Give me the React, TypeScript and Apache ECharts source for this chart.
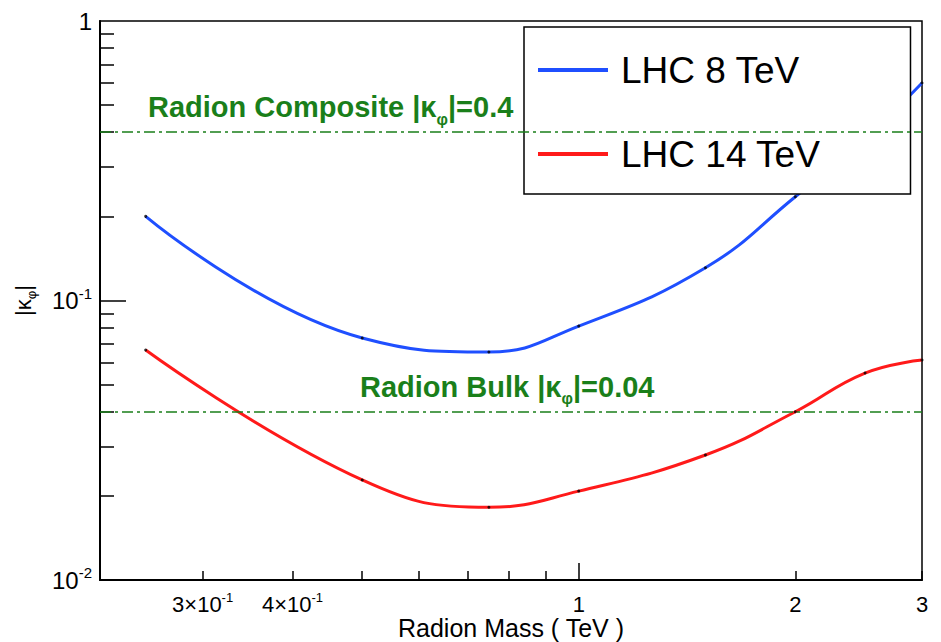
import React, { useEffect, useRef } from 'react';
import * as echarts from 'echarts';

// Radion mass points (TeV) and the coupling reach at each LHC energy
const massTeV = [0.25, 0.5, 0.75, 1.0, 1.5, 2.0, 2.5, 3.0];
const kappaLHC8 = [0.2, 0.0734, 0.0654, 0.081, 0.131, 0.235, 0.38, 0.6];
const kappaLHC14 = [0.0665, 0.0228, 0.0182, 0.0208, 0.028, 0.04, 0.055, 0.0612];

// Benchmark couplings
const compositeKappa = 0.4;
const bulkKappa = 0.04;

// Axis ranges
const xRange = [0.216, 3];
const yRange = [0.01, 1];

// Tick positions and labels
const xMinorTicks = [0.3, 0.4, 0.5, 0.6, 0.7, 0.8, 0.9, 2, 3];
const xMajorTicks = [1];
const xLabelValues = [0.3, 0.4, 1, 2, 3];
const xLabelTexts = ['3×10{sup|-1}', '4×10{sup|-1}', '1', '2', '3'];
const yMinorTicks = [0.02, 0.03, 0.04, 0.05, 0.06, 0.07, 0.08, 0.09, 0.2, 0.3, 0.4, 0.5, 0.6, 0.7, 0.8, 0.9];
const yMajorTicks = [0.1];
const yLabelValues = [0.01, 0.1, 1];
const yLabelTexts = ['10{sup|-2}', '10{sup|-1}', '1'];

const FONT = '"Liberation Sans", Arial, Helvetica, sans-serif';
const BLUE = '#1f4fff';
const RED = '#ff1a1a';
const GREEN = '#1a7f1a';

function pickLabel(values: number[], texts: string[], v: number): string {
  let best = 0;
  for (let i = 1; i < values.length; i++) {
    if (Math.abs(Math.log(values[i] / v)) < Math.abs(Math.log(values[best] / v))) best = i;
  }
  return texts[best];
}

function toPairs(ys: number[]) {
  return massTeV.map((m, i) => [m, ys[i]]);
}

export default function App() {
  const ref = useRef<HTMLDivElement>(null);

  useEffect(() => {
    if (!ref.current) return;
    const chart = echarts.init(ref.current, null, { renderer: 'svg' });

    const supRich = { sup: { fontSize: 13, lineHeight: 13, verticalAlign: 'top', fontFamily: FONT, color: '#000' } };
    const subRichGreen = {
      sub: { fontSize: 16, lineHeight: 16, verticalAlign: 'bottom', fontWeight: 'bold', fontFamily: FONT, color: GREEN },
    };

    const guideLabel = (text: string, dx: number, dy: number) => ({
      show: true,
      position: 'insideStartTop',
      formatter: text,
      distance: [dx, dy],
      color: GREEN,
      fontSize: 29,
      fontWeight: 'bold',
      fontFamily: FONT,
      lineHeight: 40,
      rich: subRichGreen,
    });

    const option: any = {
      animation: false,
      backgroundColor: '#fff',
      grid: {
        left: 100,
        right: 19,
        top: 21,
        bottom: 62,
        show: true,
        borderColor: '#000',
        borderWidth: 1.5,
        containLabel: false,
        outerBoundsMode: 'none',
      },
      legend: {
        data: ['LHC 8 TeV', 'LHC 14 TeV'],
        orient: 'vertical',
        left: 524,
        top: 27,
        padding: [23, 90, 20, 14],
        itemGap: 44,
        itemWidth: 70,
        itemHeight: 4,
        icon: 'rect',
        borderColor: '#000',
        borderWidth: 1.5,
        borderRadius: 0,
        backgroundColor: '#fff',
        selectedMode: false,
        textStyle: { fontSize: 37, lineHeight: 40, color: '#000', fontFamily: FONT, padding: [0, 0, 0, 8] },
      },
      xAxis: [
        {
          type: 'log',
          min: xRange[0],
          max: xRange[1],
          position: 'bottom',
          name: 'Radion Mass ( TeV )',
          nameLocation: 'middle',
          nameGap: 38,
          nameMoveOverlap: false,
          nameTextStyle: { fontSize: 25, lineHeight: 20, color: '#000', fontFamily: FONT },
          axisLine: { show: true, lineStyle: { color: '#000', width: 2 } },
          axisTick: { show: true, inside: true, length: 9, customValues: xMinorTicks, lineStyle: { color: '#000', width: 1.5 } },
          axisLabel: {
            show: true,
            customValues: xLabelValues,
            formatter: (v: number) => pickLabel(xLabelValues, xLabelTexts, v),
            fontSize: 22,
            lineHeight: 26,
            color: '#000',
            fontFamily: FONT,
            margin: 11,
            rich: supRich,
          },
          splitLine: { show: false },
          minorTick: { show: false },
        },
        {
          type: 'log',
          min: xRange[0],
          max: xRange[1],
          position: 'bottom',
          offset: 0,
          axisLine: { show: false },
          axisTick: { show: true, inside: true, length: 17, customValues: xMajorTicks, lineStyle: { color: '#000', width: 1.5 } },
          axisLabel: { show: false },
          splitLine: { show: false },
        },
      ],
      yAxis: [
        {
          type: 'log',
          min: yRange[0],
          max: yRange[1],
          position: 'left',
          name: '|κ{sub|φ}|',
          nameLocation: 'middle',
          nameGap: 62,
          nameRotate: 90,
          nameMoveOverlap: false,
          nameTextStyle: {
            fontSize: 22,
            lineHeight: 30,
            color: '#000',
            fontFamily: FONT,
            rich: { sub: { fontSize: 13, lineHeight: 13, verticalAlign: 'bottom', fontFamily: FONT, color: '#000' } },
          },
          axisLine: { show: true, lineStyle: { color: '#000', width: 2 } },
          axisTick: { show: true, inside: true, length: 14, customValues: yMinorTicks, lineStyle: { color: '#000', width: 1.5 } },
          axisLabel: {
            show: true,
            customValues: yLabelValues,
            formatter: (v: number) => pickLabel(yLabelValues, yLabelTexts, v),
            fontSize: 24,
            lineHeight: 30,
            color: '#000',
            fontFamily: FONT,
            margin: 8,
            rich: { sup: { fontSize: 15, lineHeight: 15, verticalAlign: 'top', fontFamily: FONT, color: '#000' } },
          },
          splitLine: { show: false },
        },
        {
          type: 'log',
          min: yRange[0],
          max: yRange[1],
          position: 'left',
          offset: 0,
          axisLine: { show: false },
          axisTick: { show: true, inside: true, length: 26, customValues: yMajorTicks, lineStyle: { color: '#000', width: 1.5 } },
          axisLabel: { show: false },
          splitLine: { show: false },
        },
      ],
      series: [
        {
          name: 'LHC 8 TeV',
          type: 'line',
          xAxisIndex: 0,
          yAxisIndex: 0,
          data: toPairs(kappaLHC8),
          smooth: 0.45,
          showSymbol: false,
          symbol: 'none',
          color: BLUE,
          lineStyle: { color: BLUE, width: 3 },
          z: 3,
        },
        {
          name: 'LHC 14 TeV',
          type: 'line',
          xAxisIndex: 0,
          yAxisIndex: 0,
          data: toPairs(kappaLHC14),
          smooth: 0.45,
          showSymbol: false,
          symbol: 'none',
          color: RED,
          lineStyle: { color: RED, width: 3 },
          z: 3,
        },
        {
          name: 'points 8',
          type: 'scatter',
          xAxisIndex: 0,
          yAxisIndex: 0,
          data: toPairs(kappaLHC8),
          symbol: 'circle',
          symbolSize: 3,
          itemStyle: { color: '#000' },
          z: 3.5,
          silent: true,
          markLine: {
            silent: true,
            symbol: 'none',
            lineStyle: { color: GREEN, width: 1.5, type: [11, 4, 3, 4] },
            data: [
              {
                yAxis: compositeKappa,
                label: guideLabel(`Radion Composite |κ{sub|φ}|=${compositeKappa}`, 48, 5),
              },
              {
                yAxis: bulkKappa,
                label: guideLabel(`Radion Bulk |κ{sub|φ}|=${bulkKappa}`, 260, 5),
              },
            ],
          },
        },
        {
          name: 'points 14',
          type: 'scatter',
          xAxisIndex: 0,
          yAxisIndex: 0,
          data: toPairs(kappaLHC14),
          symbol: 'circle',
          symbolSize: 3,
          itemStyle: { color: '#000' },
          z: 3.5,
          silent: true,
        },
      ],
    };

    chart.setOption(option);
    return () => chart.dispose();
  }, []);

  return (
    <div
      ref={ref}
      style={{ position: 'fixed', left: 0, top: 0, width: 941, height: 642, background: '#fff' }}
    />
  );
}
